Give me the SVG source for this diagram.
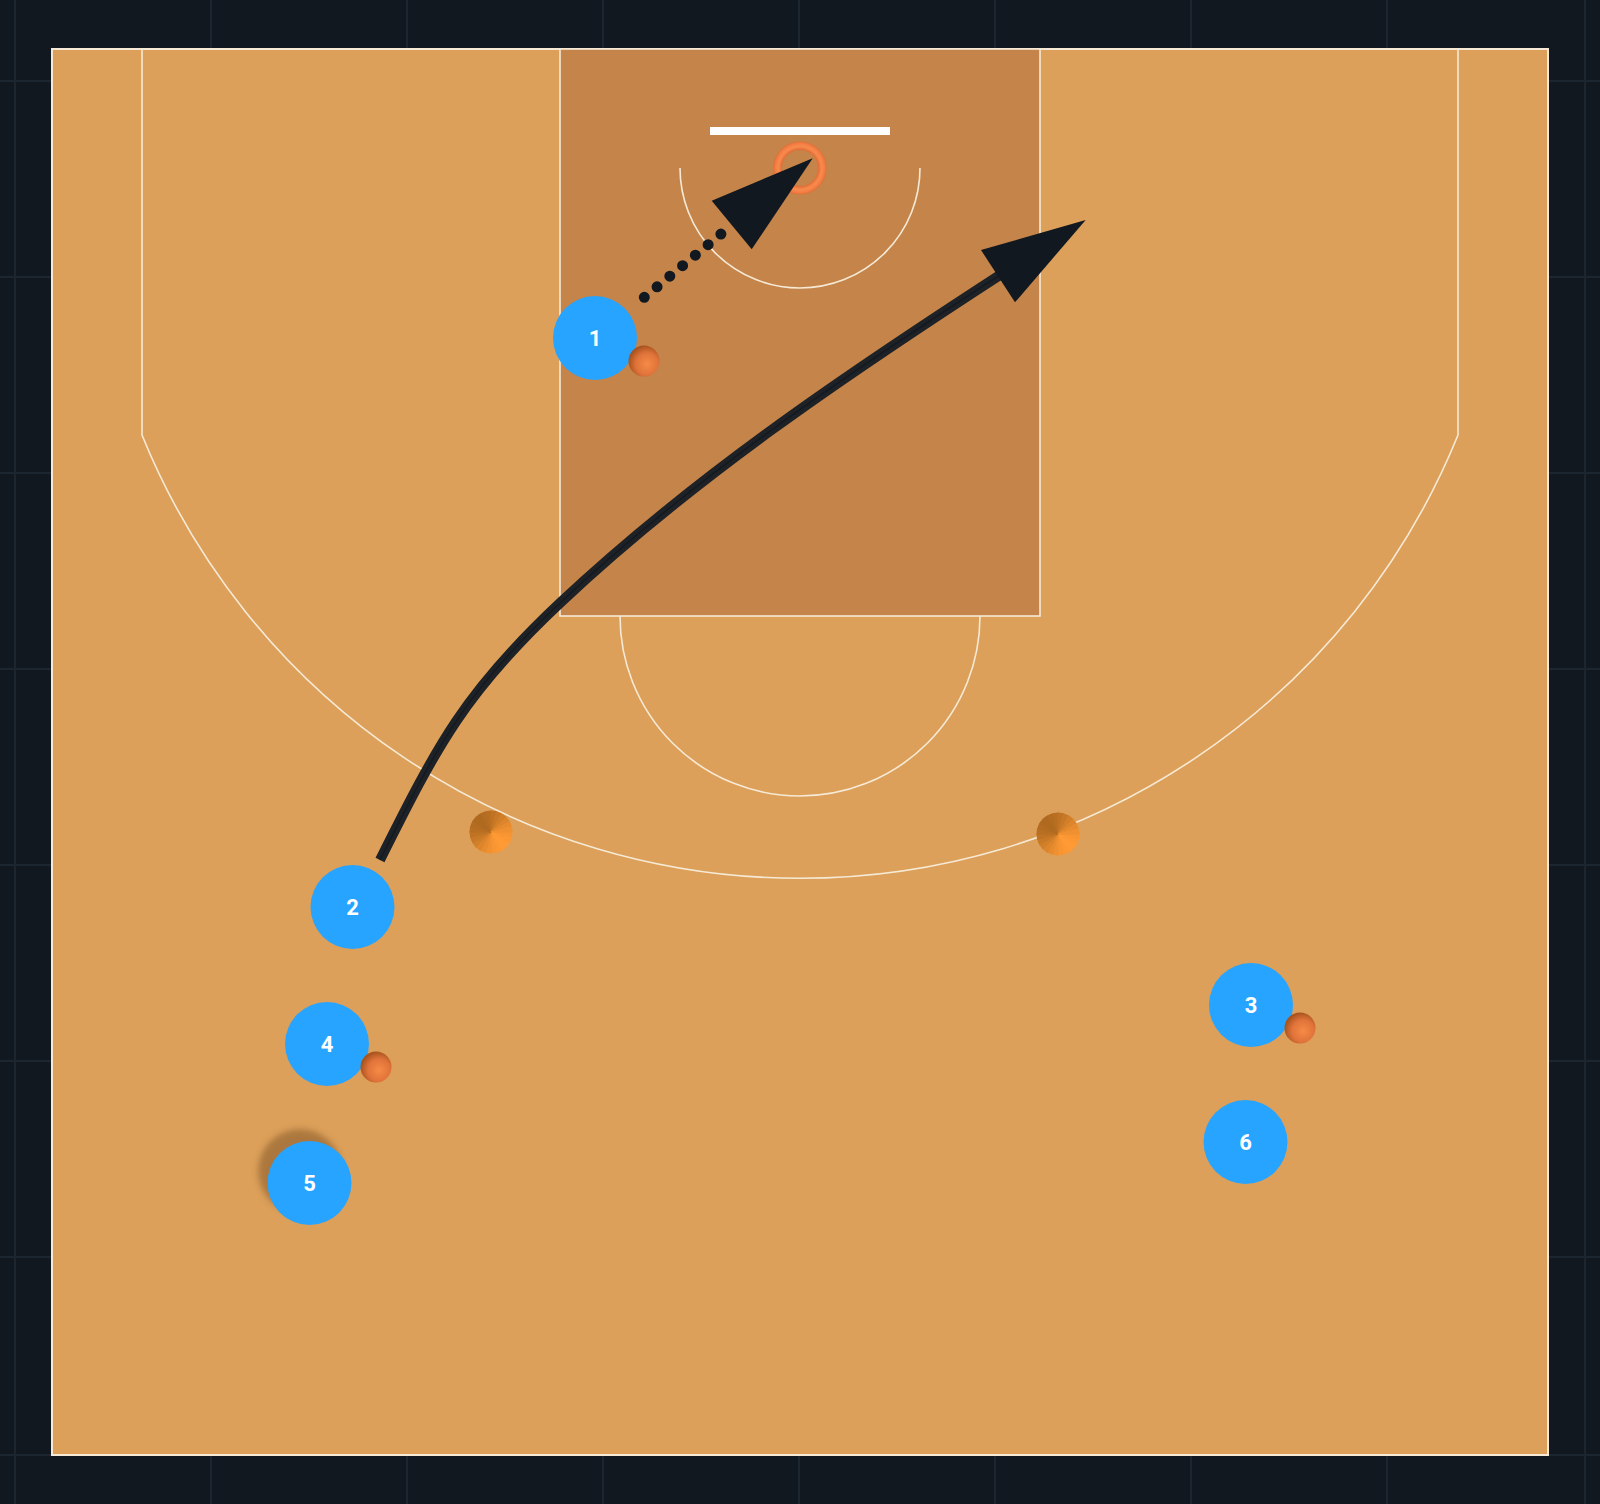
<svg xmlns="http://www.w3.org/2000/svg" width="1600" height="1504" viewBox="0 0 1600 1504">
  <style>
    .grid { stroke: #1c2631; stroke-width: 2; }
    .line { fill: none; stroke: #f6ead6; stroke-width: 1.6; }
    .player { fill: #27a4ff; }
    .label { font-family: Roboto, "Liberation Sans", sans-serif; font-weight: 700; font-size: 22px; fill: #ffffff; text-anchor: middle; dominant-baseline: central; }
    .ball { fill: url(#ballGrad); }
    .cut { fill: none; stroke: #1e2226; stroke-width: 10; }
    .cut-core { fill: none; stroke: #131a21; stroke-width: 1.5; }
    .w { stroke-width: 0.8; }
  </style>
  <defs>
    <radialGradient id="ballGrad" cx="0.6" cy="0.6" r="0.6">
      <stop offset="0" stop-color="#f68b46"/>
      <stop offset="0.6" stop-color="#e0733a"/>
      <stop offset="1" stop-color="#a8531e"/>
    </radialGradient>
    <radialGradient id="rimGrad" gradientUnits="userSpaceOnUse" cx="800" cy="168" r="27">
      <stop offset="0.66" stop-color="#e06a32"/>
      <stop offset="0.8" stop-color="#f98a4e"/>
      <stop offset="0.92" stop-color="#f27c42"/>
      <stop offset="1" stop-color="#dc6a34"/>
    </radialGradient>
    <filter id="blur" x="-50%" y="-50%" width="200%" height="200%">
      <feGaussianBlur stdDeviation="3"/>
    </filter>
    <g id="cone">
      <path class="w" d="M0 0 L23 0 L22.22 5.95 Z" fill="#f79533" stroke="#f79533"/>
      <path class="w" d="M0 0 L22.22 5.95 L19.92 11.5 Z" fill="#fc9834" stroke="#fc9834"/>
      <path class="w" d="M0 0 L19.92 11.5 L16.26 16.26 Z" fill="#ff9a35" stroke="#ff9a35"/>
      <path class="w" d="M0 0 L16.26 16.26 L11.5 19.92 Z" fill="#ff9a35" stroke="#ff9a35"/>
      <path class="w" d="M0 0 L11.5 19.92 L5.95 22.22 Z" fill="#fc9834" stroke="#fc9834"/>
      <path class="w" d="M0 0 L5.95 22.22 L0 23 Z" fill="#f79533" stroke="#f79533"/>
      <path class="w" d="M0 0 L0 23 L-5.95 22.22 Z" fill="#f09131" stroke="#f09131"/>
      <path class="w" d="M0 0 L-5.95 22.22 L-11.5 19.92 Z" fill="#e78b2f" stroke="#e78b2f"/>
      <path class="w" d="M0 0 L-11.5 19.92 L-16.26 16.26 Z" fill="#dd852c" stroke="#dd852c"/>
      <path class="w" d="M0 0 L-16.26 16.26 L-19.92 11.5 Z" fill="#d27f29" stroke="#d27f29"/>
      <path class="w" d="M0 0 L-19.92 11.5 L-22.22 5.95 Z" fill="#c87927" stroke="#c87927"/>
      <path class="w" d="M0 0 L-22.22 5.95 L-23 0 Z" fill="#c07324" stroke="#c07324"/>
      <path class="w" d="M0 0 L-23 0 L-22.22 -5.95 Z" fill="#b86f22" stroke="#b86f22"/>
      <path class="w" d="M0 0 L-22.22 -5.95 L-19.92 -11.5 Z" fill="#b36c21" stroke="#b36c21"/>
      <path class="w" d="M0 0 L-19.92 -11.5 L-16.26 -16.26 Z" fill="#b06a20" stroke="#b06a20"/>
      <path class="w" d="M0 0 L-16.26 -16.26 L-11.5 -19.92 Z" fill="#b06a20" stroke="#b06a20"/>
      <path class="w" d="M0 0 L-11.5 -19.92 L-5.95 -22.22 Z" fill="#b36c21" stroke="#b36c21"/>
      <path class="w" d="M0 0 L-5.95 -22.22 L0 -23 Z" fill="#b86f22" stroke="#b86f22"/>
      <path class="w" d="M0 0 L0 -23 L5.95 -22.22 Z" fill="#c07324" stroke="#c07324"/>
      <path class="w" d="M0 0 L5.95 -22.22 L11.5 -19.92 Z" fill="#c87927" stroke="#c87927"/>
      <path class="w" d="M0 0 L11.5 -19.92 L16.26 -16.26 Z" fill="#d27f29" stroke="#d27f29"/>
      <path class="w" d="M0 0 L16.26 -16.26 L19.92 -11.5 Z" fill="#dd852c" stroke="#dd852c"/>
      <path class="w" d="M0 0 L19.92 -11.5 L22.22 -5.95 Z" fill="#e78b2f" stroke="#e78b2f"/>
      <path class="w" d="M0 0 L22.22 -5.95 L23 0 Z" fill="#f09131" stroke="#f09131"/>
    </g>
    <clipPath id="coneClip"><circle cx="0" cy="0" r="21.5"/></clipPath>
  </defs>

  <rect x="0" y="0" width="1600" height="1504" fill="#111820"/>
  <g id="grid">
    <line class="grid" x1="15" y1="0" x2="15" y2="1504"/>
    <line class="grid" x1="211" y1="0" x2="211" y2="1504"/>
    <line class="grid" x1="407" y1="0" x2="407" y2="1504"/>
    <line class="grid" x1="603" y1="0" x2="603" y2="1504"/>
    <line class="grid" x1="799" y1="0" x2="799" y2="1504"/>
    <line class="grid" x1="995" y1="0" x2="995" y2="1504"/>
    <line class="grid" x1="1191" y1="0" x2="1191" y2="1504"/>
    <line class="grid" x1="1387" y1="0" x2="1387" y2="1504"/>
    <line class="grid" x1="1585" y1="0" x2="1585" y2="1504"/>
    <line class="grid" x1="0" y1="81" x2="1600" y2="81"/>
    <line class="grid" x1="0" y1="277" x2="1600" y2="277"/>
    <line class="grid" x1="0" y1="473" x2="1600" y2="473"/>
    <line class="grid" x1="0" y1="669" x2="1600" y2="669"/>
    <line class="grid" x1="0" y1="865" x2="1600" y2="865"/>
    <line class="grid" x1="0" y1="1061" x2="1600" y2="1061"/>
    <line class="grid" x1="0" y1="1257" x2="1600" y2="1257"/>
    <line class="grid" x1="0" y1="1455" x2="1600" y2="1455"/>
  </g>

  <g id="court">
    <rect x="52" y="49" width="1496" height="1406" fill="#dca05a" stroke="#f6ead6" stroke-width="2"/>
    <rect x="560" y="49" width="480" height="567" class="line" style="fill:#c4844a"/>
    <path class="line" d="M142 49 V435 A710 710 0 0 0 1458 435 V49"/>
    <path class="line" d="M620 616 A180 180 0 0 0 980 616"/>
    <path class="line" d="M680 168 A120 120 0 0 0 920 168"/>
    <rect x="710" y="127" width="180" height="8" fill="#ffffff"/>
    <circle cx="800" cy="168" r="22.3" fill="none" stroke="url(#rimGrad)" stroke-width="8.5"/>
  </g>

  <g id="cones">
    <g id="cone-left" transform="translate(491 832)"><g clip-path="url(#coneClip)"><use href="#cone"/></g></g>
    <g id="cone-right" transform="translate(1058 834)"><g clip-path="url(#coneClip)"><use href="#cone"/></g></g>
  </g>

  <g id="connectors">
    <g id="dribble-pass">
      <path d="M644.3 297.3 L721.5 233.6" fill="none" stroke="#111820" stroke-width="11" stroke-linecap="round" stroke-dasharray="0 16.55"/>
      <polygon points="812.7,158.3 711.7,200.7 751.7,249.3" fill="#111820"/>
    </g>
    <g id="cut">
      <path class="cut" d="M380 860 C438 744 465 692 560 603 C692.7 478.3 845.5 375.2 1000 275"/>
      <path class="cut-core" d="M380 860 C438 744 465 692 560 603 C692.7 478.3 845.5 375.2 1000 275"/>
      <polygon points="1085.7,220 981,250 1015,302.3" fill="#111820"/>
    </g>
  </g>

  <g id="player-1">
    <circle class="player" cx="595" cy="338" r="42"/>
    <text class="label" x="595" y="338">1</text>
  </g>
  <g id="ball-1"><circle class="ball" cx="644" cy="361" r="15.5"/></g>

  <g id="player-2">
    <circle class="player" cx="352.5" cy="907" r="42"/>
    <text class="label" x="352.5" y="907">2</text>
  </g>

  <g id="player-3">
    <circle class="player" cx="1251" cy="1005" r="42"/>
    <text class="label" x="1251" y="1005">3</text>
  </g>
  <g id="ball-3"><circle class="ball" cx="1300" cy="1028" r="15.5"/></g>

  <g id="player-4">
    <circle class="player" cx="327" cy="1044" r="42"/>
    <text class="label" x="327" y="1044">4</text>
  </g>
  <g id="ball-4"><circle class="ball" cx="376" cy="1067" r="15.5"/></g>

  <g id="player-5">
    <circle cx="300" cy="1171" r="42" fill="#9b6a36" opacity="0.75" filter="url(#blur)"/>
    <circle class="player" cx="309.5" cy="1183" r="42"/>
    <text class="label" x="309.5" y="1183">5</text>
  </g>

  <g id="player-6">
    <circle class="player" cx="1245.5" cy="1142" r="42"/>
    <text class="label" x="1245.5" y="1142">6</text>
  </g>
</svg>
